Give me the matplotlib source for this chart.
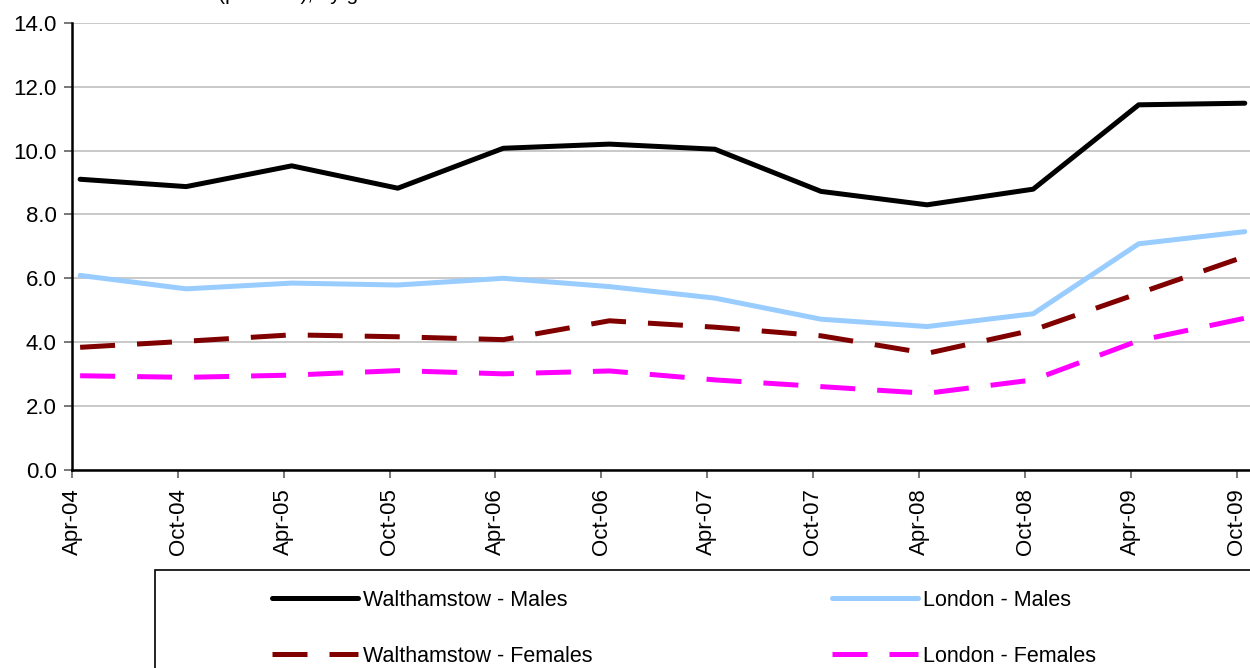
import matplotlib
matplotlib.use("Agg")
import matplotlib.pyplot as plt
from matplotlib.patches import Rectangle
import pandas as pd

# periods (claimant counts taken mid-month)
periods = ["Apr-04", "Oct-04", "Apr-05", "Oct-05", "Apr-06", "Oct-06",
           "Apr-07", "Oct-07", "Apr-08", "Oct-08", "Apr-09", "Oct-09"]
tick_dates = pd.to_datetime(periods, format="%b-%y")
data_dates = tick_dates + pd.Timedelta(days=14)

walthamstow_males = [9.10, 8.87, 9.52, 8.82, 10.07, 10.20, 10.04, 8.72, 8.30, 8.79, 11.43, 11.48]
london_males = [6.09, 5.67, 5.85, 5.79, 6.00, 5.74, 5.38, 4.72, 4.49, 4.89, 7.08, 7.46]
walthamstow_females = [3.84, 4.03, 4.23, 4.17, 4.08, 4.67, 4.47, 4.20, 3.65, 4.38, 5.53, 6.68]
london_females = [2.95, 2.90, 2.97, 3.11, 3.01, 3.10, 2.82, 2.61, 2.40, 2.82, 4.05, 4.75]

plt.rcParams['font.family'] = ['Liberation Sans', 'DejaVu Sans']

fig = plt.figure(figsize=(12.5, 6.68), dpi=100)
ax = fig.add_axes([72 / 1250, 1 - 470 / 668, 1 - 72 / 1250, (470 - 22.7) / 668])

lw = 3.6
dash = (0, (7, 4.4))
ax.plot(data_dates, walthamstow_males, color="black", lw=lw,
        solid_capstyle="round", label="Walthamstow - Males", zorder=4, clip_on=False)
ax.plot(data_dates, london_males, color="#99CCFF", lw=lw,
        solid_capstyle="round", label="London - Males", zorder=3, clip_on=False)
ax.plot(data_dates, walthamstow_females, color="#800000", lw=lw, linestyle=dash,
        dash_capstyle="butt", label="Walthamstow - Females", zorder=3, clip_on=False)
ax.plot(data_dates, london_females, color="#FF00FF", lw=lw, linestyle=dash,
        dash_capstyle="butt", label="London - Females", zorder=3, clip_on=False)

ax.set_ylim(0, 14)
ax.set_yticks(range(0, 15, 2))
ax.set_yticklabels([f"{v:.1f}" for v in range(0, 15, 2)], fontsize=16)
ax.set_xlim(tick_dates[0], tick_dates[-1] + pd.Timedelta(days=23))
ax.set_xticks(tick_dates)
ax.set_xticklabels(periods, rotation=90, va="top", ha="center", fontsize=16)

ax.grid(axis="y", color="#C0C0C0", lw=1.2)
ax.set_axisbelow(True)
for s in ["top", "right"]:
    ax.spines[s].set_visible(False)
ax.spines["left"].set_linewidth(1.8)
ax.spines["bottom"].set_linewidth(1.8)
ax.tick_params(axis="both", direction="out", length=6, width=1.2,
               color="#606060", pad=7)
ax.tick_params(axis="y", pad=5)

# cut-off chart title at the top edge
fig.text(0.07, 1.0, "Claimant rate (per cent), by gender",
         fontsize=15, va="baseline", ha="left")

# legend box running off the bottom and right
fig.add_artist(Rectangle((155 / 1250, -0.2), 1.0, 0.2 + 1 - 570 / 668,
                         transform=fig.transFigure, fill=False,
                         ec="black", lw=1.2))

handles = ax.get_lines()
lfont = {"family": ["Liberation Sans", "DejaVu Sans"], "size": 15.5}
leg_kw = dict(frameon=False, loc="upper left", borderpad=0, borderaxespad=0,
              handlelength=4.0, handletextpad=0.22, labelspacing=1.62, prop=lfont)
leg1 = fig.legend([handles[0], handles[2]],
                  ["Walthamstow - Males", "Walthamstow - Females"],
                  bbox_to_anchor=(272 / 1250, 1 - 590 / 668), **leg_kw)
leg2 = fig.legend([handles[1], handles[3]],
                  ["London - Males", "London - Females"],
                  bbox_to_anchor=(832 / 1250, 1 - 590 / 668), **leg_kw)

fig.savefig("out.png", dpi=100)
